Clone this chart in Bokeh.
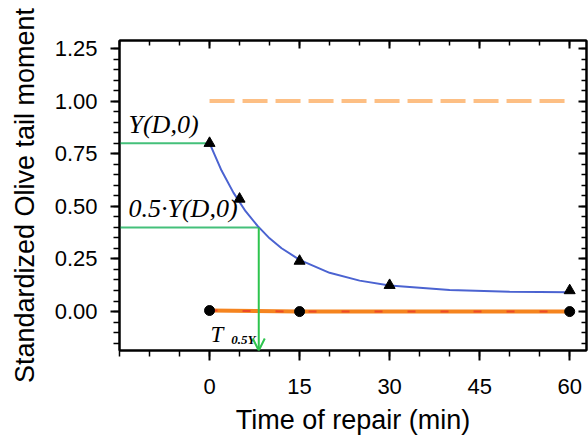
from bokeh.plotting import figure
from bokeh.models import (Range1d, LinearAxis, FixedTicker, Arrow, OpenHead,
                          NumeralTickFormatter, CustomJSTickFormatter)
from bokeh.core.properties import value
from bokeh.embed import file_html
from bokeh.resources import INLINE

# Data
t_points = [0, 5, 15, 30, 60]
y_points = [0.80, 0.535, 0.24, 0.125, 0.10]

t_curve = [0, 2, 4, 6, 8, 10, 12, 15, 20, 25, 30, 40, 50, 60]
y_curve = [0.80, 0.670, 0.564, 0.477, 0.407, 0.348, 0.301, 0.246, 0.184, 0.147, 0.124, 0.1025, 0.0945, 0.092]

t_ctrl = [0, 15, 60]
y_ctrl = [0.005, 0.0, 0.0]

t_ref = [0, 60]
y_ref = [1.0, 1.0]

y_d0 = 0.80
half_y = 0.40
t_half = 8.2

x_ticks = [0, 15, 30, 45, 60]
x_minor = [-15, -10, -5, 0, 5, 10, 15, 20, 25, 30, 35, 40, 45, 50, 55, 60]
y_ticks = [0.0, 0.25, 0.5, 0.75, 1.0, 1.25]
y_minor = [-0.15, -0.1, -0.05, 0.0, 0.05, 0.1, 0.15, 0.2, 0.25, 0.3, 0.35, 0.4, 0.45, 0.5,
           0.55, 0.6, 0.65, 0.7, 0.75, 0.8, 0.85, 0.9, 0.95, 1.0, 1.05, 1.1, 1.15, 1.2, 1.25]

X0, X1 = -15.0, 62.8
Y0, Y1 = -0.185, 1.288

p = figure(width=588, height=438, output_backend="svg", toolbar_location=None,
           x_range=Range1d(X0, X1), y_range=Range1d(Y0, Y1),
           min_border_left=119, min_border_right=2, min_border_top=40, min_border_bottom=88)
p.grid.visible = False
p.outline_line_color = "black"
p.outline_line_width = 2
p.background_fill_color = "white"
p.border_fill_color = "white"

ax = p.xaxis[0]
ax.ticker = FixedTicker(ticks=x_ticks, minor_ticks=x_minor)
ax.axis_label = "Time of repair (min)"
ay = p.yaxis[0]
ay.ticker = FixedTicker(ticks=y_ticks, minor_ticks=y_minor)
ay.axis_label = "Standardized Olive tail moment"
ay.formatter = NumeralTickFormatter(format="0.00")

for a in (ax, ay):
    a.axis_line_color = "black"
    a.axis_line_width = 2
    a.major_tick_line_color = "black"
    a.major_tick_line_width = 2
    a.minor_tick_line_color = "black"
    a.minor_tick_line_width = 1.5
    a.major_tick_in = 0
    a.minor_tick_in = 0
    a.major_label_text_font = "Liberation Sans"
    a.major_label_text_font_size = "22px"
    a.major_label_text_color = "black"
    a.axis_label_text_font = "Liberation Sans"
    a.axis_label_text_font_size = "27px"
    a.axis_label_text_font_style = "normal"
    a.axis_label_text_color = "black"

ax.major_tick_out = 10
ax.minor_tick_out = 6
ax.major_label_standoff = 18
ax.axis_label_standoff = 8
ax.major_label_text_line_height = 0.9
ax.axis_label_text_line_height = 0.9
ay.major_tick_out = 9
ay.minor_tick_out = 6
ay.major_label_standoff = 13
ay.axis_label_standoff = 12

top = LinearAxis(ticker=FixedTicker(ticks=x_ticks, minor_ticks=x_minor))
right = LinearAxis(ticker=FixedTicker(ticks=y_ticks, minor_ticks=y_minor))
for a in (top, right):
    a.axis_line_color = "black"
    a.axis_line_width = 2
    a.major_tick_line_color = "black"
    a.major_tick_line_width = 2
    a.minor_tick_line_color = "black"
    a.minor_tick_line_width = 1.5
    a.major_tick_out = 0
    a.minor_tick_out = 0
    a.major_tick_in = 8
    a.minor_tick_in = 5
    a.formatter = CustomJSTickFormatter(code="return '';")
    a.major_label_text_font_size = "1px"
    a.major_label_standoff = 0
p.add_layout(top, "above")
p.add_layout(right, "right")

# reference dashed line at 1.0
p.line(t_ref, y_ref, line_color="#FDBF84", line_width=4, line_dash="25 8")

# green guide lines
p.line([X0, 0], [y_d0, y_d0], line_color="#44C07A", line_width=2)
p.line([X0, t_half], [half_y, half_y], line_color="#44C07A", line_width=2)
p.add_layout(Arrow(end=OpenHead(line_color="#2EC44E", line_width=2, size=12),
                   x_start=t_half, y_start=half_y, x_end=t_half, y_end=Y0,
                   line_color="#2EC44E", line_width=2))

# control series
p.line(t_ctrl, y_ctrl, line_color="#F5841F", line_width=4)
p.line(t_ctrl, y_ctrl, line_color="#E8312B", line_width=2, line_dash="8 25", line_alpha=0.7)
p.scatter(t_ctrl, y_ctrl, marker="circle", size=10, fill_color="black", line_color="black")

# treated series: fitted curve + points
p.line(t_curve, y_curve, line_color="#4B63D1", line_width=2)
p.scatter(t_points, y_points, marker="triangle", size=11, fill_color="black", line_color="black")

# annotations
p.text(x=[-13.5], y=[0.89], text=["Y(D,0)"], text_font=value("Liberation Serif"),
       text_font_style="italic", text_font_size="26px", text_color="black",
       text_baseline="alphabetic", text_align="left")
p.text(x=[-13.5], y=[0.49], text=["0.5·Y(D,0)"], text_font=value("Liberation Serif"),
       text_font_style="italic", text_font_size="26px", text_color="black",
       text_baseline="alphabetic", text_align="left")
p.text(x=[0.15], y=[-0.108], text=["T"], text_font=value("Liberation Serif"),
       text_font_style="italic", text_font_size="23px", text_color="black",
       text_baseline="alphabetic", text_align="left")
p.text(x=[3.6], y=[-0.133], text=["0.5Y"], text_font=value("Liberation Serif"),
       text_font_style="bold italic", text_font_size="13px", text_color="black",
       text_baseline="alphabetic", text_align="left")

open("out.html", "w").write(file_html(p, INLINE))
